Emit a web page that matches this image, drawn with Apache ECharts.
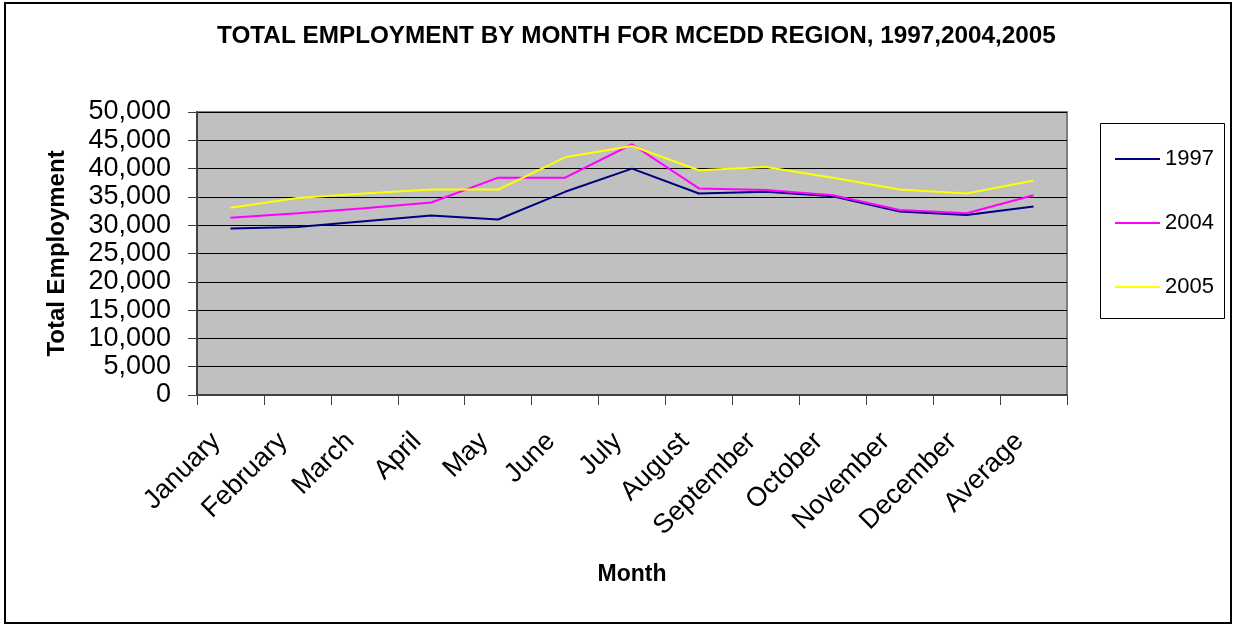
<!DOCTYPE html>
<html>
<head>
<meta charset="utf-8">
<script src="https://cdn.jsdelivr.net/npm/echarts@6/dist/echarts.min.js"></script>
<style>
html,body{margin:0;padding:0;background:#fff;}
#chart{width:1233px;height:626px;}
</style>
</head>
<body>
<div id="chart"></div>
<script>
const months = ['January','February','March','April','May','June','July','August','September','October','November','December','Average'];
const s1997 = [29400, 29700, 30700, 31700, 31000, 35900, 40000, 35600, 35900, 35100, 32400, 31800, 33300];
const s2004 = [31300, 32100, 33000, 34000, 38400, 38400, 44300, 36500, 36200, 35300, 32700, 32100, 35300];
const s2005 = [33100, 34800, 35600, 36300, 36300, 42000, 44000, 39700, 40300, 38400, 36300, 35600, 37900];
const seriesNames = ['1997','2004','2005'];
const chartTitle = 'TOTAL EMPLOYMENT BY MONTH FOR MCEDD REGION, 1997,2004,2005';

const FONT = 'Liberation Sans, Arial, sans-serif';
const chart = echarts.init(document.getElementById('chart'));
chart.setOption({
  animation: false,
  backgroundColor: '#ffffff',
  textStyle: { fontFamily: FONT, color: '#000' },
  title: {
    text: chartTitle,
    left: 212, top: 19,
    textStyle: { fontFamily: FONT, fontSize: 24.3, fontWeight: 'bold', color: '#000' }
  },
  graphic: [
    { type: 'rect', shape: { x: 5, y: 3, width: 1226, height: 620 }, style: { fill: 'none', stroke: '#000', lineWidth: 2 }, silent: true },
    { type: 'rect', shape: { x: 1100.5, y: 123.5, width: 124, height: 195 }, style: { fill: '#fff', stroke: '#000', lineWidth: 1 }, silent: true, z: -1 }
  ],
  legend: {
    orient: 'vertical',
    left: 1110, top: 143,
    itemWidth: 45, itemHeight: 2, itemGap: 42,
    icon: 'rect',
    textStyle: { fontFamily: FONT, fontSize: 22, color: '#000', lineHeight: 22 },
    data: seriesNames
  },
  grid: {
    left: 197, top: 112, right: 166, bottom: 231,
    show: true, backgroundColor: '#C0C0C0', borderColor: '#808080', borderWidth: 2
  },
  xAxis: {
    type: 'category',
    data: months,
    boundaryGap: true,
    name: 'Month',
    nameLocation: 'middle',
    nameGap: 180,
    nameTextStyle: { fontFamily: FONT, fontSize: 23, fontWeight: 'bold', color: '#000', verticalAlign: 'middle' },
    axisLine: { lineStyle: { color: '#404040', width: 2 } },
    axisTick: { show: true, interval: 0, length: 10, alignWithLabel: false, lineStyle: { color: '#404040' } },
    axisLabel: { interval: 0, rotate: 45, fontSize: 27, fontFamily: FONT, color: '#000', margin: 28, padding: [0, 20, 0, 0] },
    splitLine: { show: false }
  },
  yAxis: {
    type: 'value',
    min: 0, max: 50000, interval: 5000,
    name: 'Total Employment',
    nameLocation: 'middle',
    nameGap: 140,
    nameRotate: 90,
    nameTextStyle: { fontFamily: FONT, fontSize: 24, fontWeight: 'bold', color: '#000', verticalAlign: 'middle' },
    axisLine: { show: true, lineStyle: { color: '#404040', width: 2 } },
    axisTick: { show: true, length: 9, lineStyle: { color: '#404040' } },
    axisLabel: {
      fontSize: 27, fontFamily: FONT, color: '#000', margin: 26,
      formatter: v => v.toLocaleString('en-US')
    },
    splitLine: { show: true, lineStyle: { color: '#000', width: 1 } }
  },
  series: [
    { name: seriesNames[0], type: 'line', data: s1997, symbol: 'none', color: '#000080', lineStyle: { width: 2, color: '#000080' } },
    { name: seriesNames[1], type: 'line', data: s2004, symbol: 'none', color: '#FF00FF', lineStyle: { width: 2, color: '#FF00FF' } },
    { name: seriesNames[2], type: 'line', data: s2005, symbol: 'none', color: '#FFFF00', lineStyle: { width: 2, color: '#FFFF00' } }
  ]
});
</script>
</body>
</html>
